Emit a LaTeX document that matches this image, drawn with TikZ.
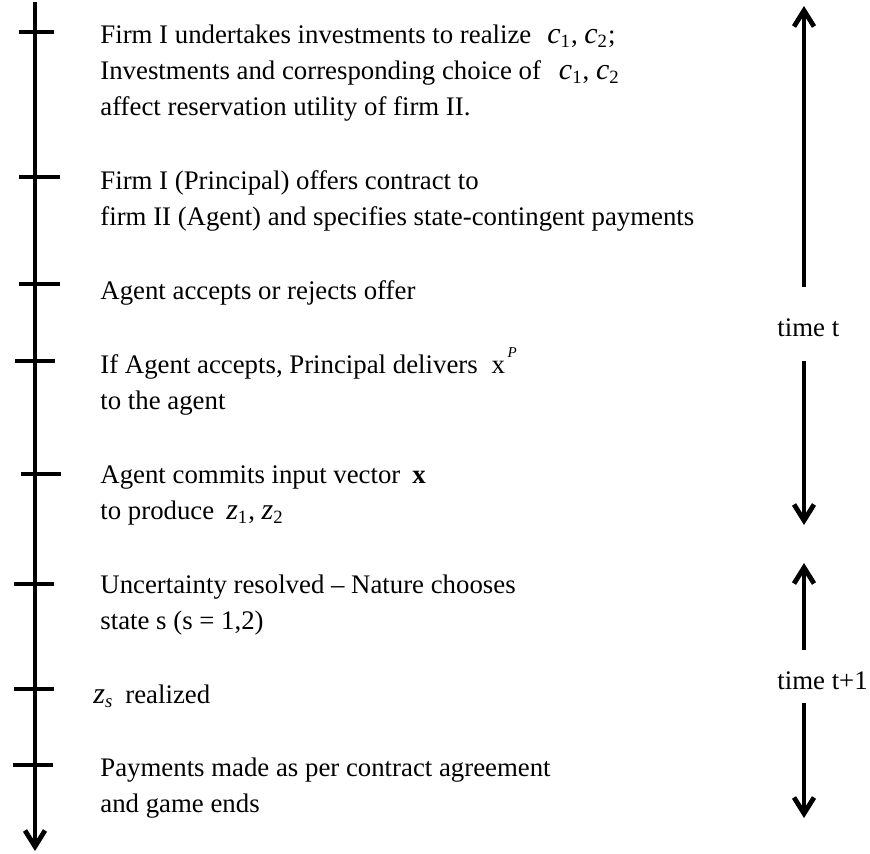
\documentclass[tikz,border=0pt]{standalone}
\usepackage{fontspec}
\setmainfont{Liberation Serif}
\usetikzlibrary{arrows.meta}
\newcommand{\ivar}[2]{{\fontsize{15}{18}\selectfont\textit{#1}}\textsubscript{#2}}

\begin{document}
\begin{tikzpicture}[x=0.5pt, y=-0.5pt, every node/.style={anchor=base west, align=left, inner sep=0pt, font=\fontsize{13.4}{18}\selectfont}]
	\tikzset{timeline/.style={line width=2.4pt, -{Straight Barb[length=8pt,width=10pt]}}}
	\tikzset{tickmark/.style={line width=1.7pt}}
	\useasboundingbox (0,0) rectangle (870,853);
	\coordinate (start) at (35,2);
	\coordinate (finish) at (35,851);
	\draw[timeline] (start) -- (finish);
	\foreach \y/\l/\r [count=\i] in {
		32/19/54, 177/19/60, 284/19/60, 361/15/55,
		474/21/61, 584/14/54, 689/14/54, 765/13/53}
	{
		\coordinate (l\i) at (\l,\y);
		\coordinate (r\i) at (\r,\y);
		\draw[tickmark] (l\i) -- (r\i);
	}
	\node (e1) at (100,115) {Firm I undertakes investments to realize\hspace{8pt}\ivar{c}{1}, \ivar{c}{2};\\
		Investments and corresponding choice of\hspace{9pt}\ivar{c}{1}, \ivar{c}{2}\\
		affect reservation utility of firm II.};
	\node (e2) at (100,225) {Firm I (Principal) offers contract to\\
		firm II (Agent) and specifies state-contingent payments};
	\node (e3) at (100,299) {Agent accepts or rejects offer};
	\node (e4) at (100,409) {If Agent accepts, Principal delivers\hspace{7pt}x\raisebox{8pt}{\fontsize{7.5}{8}\selectfont\itshape\,P}\\
		to the agent};
	\node (e5) at (100,519) {Agent commits input vector\hspace{6pt}\textbf{x}\\
		to produce\hspace{6pt}\ivar{z}{1}, \ivar{z}{2}};
	\node (e6) at (100,629) {Uncertainty resolved – Nature chooses\\
		state s (s = 1,2)};
	\node (e7) at (93,703) {\ivar{z}{\textit{s}}\hspace{6pt}realized};
	\node (e8) at (100,812) {Payments made as per contract agreement\\
		and game ends};
	\node (tt) at (777,336) {time t};
	\node (tt1) at (777,689) {time t+1};
	\coordinate (t0) at (804,6);
	\coordinate (t1) at (804,287);
	\coordinate (t2) at (804,361);
	\coordinate (t3) at (804,525);
	\coordinate (u0) at (804,563);
	\coordinate (u1) at (804,650);
	\coordinate (u2) at (804,703);
	\coordinate (u3) at (804,818);
	\draw[timeline] (t1) -- (t0);
	\draw[timeline] (t2) -- (t3);
	\draw[timeline] (u1) -- (u0);
	\draw[timeline] (u2) -- (u3);
\end{tikzpicture}
\end{document}
